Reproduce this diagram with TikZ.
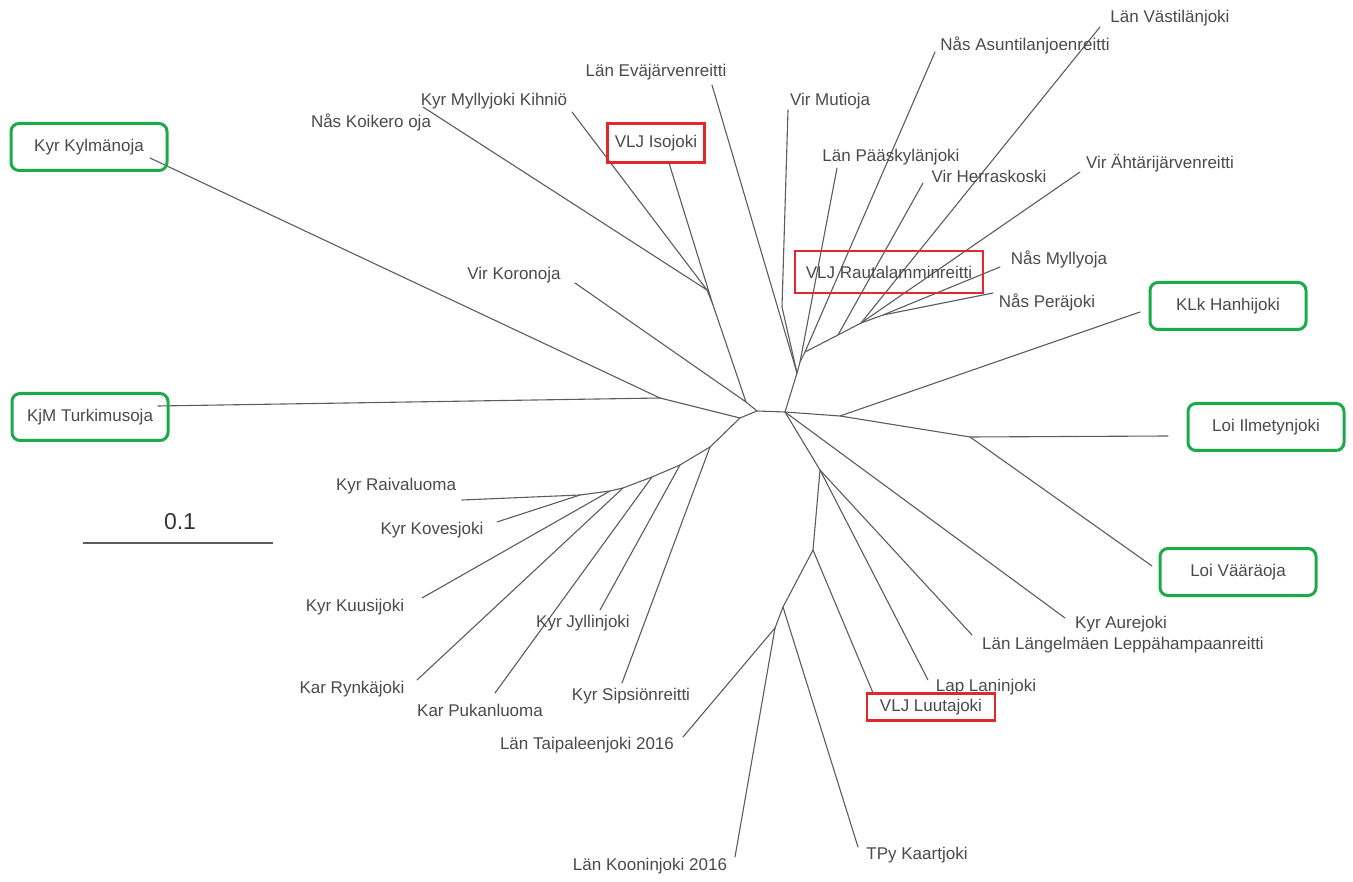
\documentclass[tikz,border=0pt]{standalone}
\usepackage{fontspec}
\setmainfont{Liberation Sans}
\definecolor{treegray}{HTML}{5C5C5C}
\definecolor{labelgray}{HTML}{4A4A4A}
\definecolor{boxred}{HTML}{E0282E}
\definecolor{boxgreen}{HTML}{1BAA48}
\tikzstyle{branch} = [treegray, line width=1.1pt, line cap=round]
\tikzstyle{taxon} = [text=labelgray, font=\fontsize{17}{19}\selectfont, inner sep=0pt]
\tikzstyle{redbox} = [taxon, draw=boxred, line width=2.4pt]
\tikzstyle{greenbox} = [taxon, draw=boxgreen, line width=3pt, rounded corners=8pt, minimum width=156pt, minimum height=47pt]

\begin{document}
\begin{tikzpicture}[x=1pt, y=-1pt]
	\useasboundingbox (0,0) rectangle (1353,882);
	% inner points of the tree
	\coordinate (K1) at (707,290);
	\coordinate (K2) at (713,305);
	\coordinate (A) at (746,402);
	\coordinate (T1) at (757,411);
	\coordinate (T2) at (785,412);
	\coordinate (L0) at (740,418);
	\coordinate (KT) at (660,398);
	\coordinate (L1) at (710,447);
	\coordinate (L2) at (680,465);
	\coordinate (L3) at (652,477);
	\coordinate (L4) at (623,488);
	\coordinate (L5) at (610,491);
	\coordinate (L6) at (580,495);
	\coordinate (B) at (797,373);
	\coordinate (R1) at (800,362);
	\coordinate (R2) at (805,352);
	\coordinate (R3) at (838,335);
	\coordinate (R4) at (861,323);
	\coordinate (R5) at (883,315);
	\coordinate (H1) at (840,416);
	\coordinate (H2) at (970,437);
	\coordinate (D1) at (820,470);
	\coordinate (D2) at (813,550);
	\coordinate (D3) at (783,607);
	\coordinate (D4) at (775,628);
	% tips
	\coordinate (tKoikero) at (423,107);
	\coordinate (tMyllyjoki) at (572,112);
	\coordinate (tIsojoki) at (669,163);
	\coordinate (tKoronoja) at (575,283);
	\coordinate (tKylmanoja) at (150,158);
	\coordinate (tTurkimus) at (158,406);
	\coordinate (tRaiva) at (462,500);
	\coordinate (tKoves) at (497,522);
	\coordinate (tKuusi) at (422,598);
	\coordinate (tRynka) at (417,680);
	\coordinate (tPukan) at (495,693);
	\coordinate (tJyllin) at (600,610);
	\coordinate (tSipsio) at (622,683);
	\coordinate (tTaipale) at (683,737);
	\coordinate (tKoonin) at (735,857);
	\coordinate (tKaart) at (858,847);
	\coordinate (tLuuta) at (873,693);
	\coordinate (tLanin) at (928,680);
	\coordinate (tLangel) at (972,635);
	\coordinate (tAure) at (1065,618);
	\coordinate (tVaara) at (1152,566);
	\coordinate (tIlmety) at (1168,436);
	\coordinate (tHanhi) at (1140,312);
	\coordinate (tPera) at (993,293);
	\coordinate (tMyllyoja) at (1000,267);
	\coordinate (tAhtari) at (1080,172);
	\coordinate (tVastila) at (1100,27);
	\coordinate (tHerras) at (923,183);
	\coordinate (tAsuntila) at (935,52);
	\coordinate (tPaasky) at (837,168);
	\coordinate (bMutioja) at (782,307);
	\coordinate (tMutioja) at (788,110);
	\coordinate (tEvaj) at (712,85);
	% branches
	\draw[branch] (tKoikero) -- (K1) -- (tMyllyjoki);
	\draw[branch] (K1) -- (K2) -- (tIsojoki);
	\draw[branch] (K2) -- (A) -- (tKoronoja);
	\draw[branch] (A) -- (T1) -- (T2);
	\draw[branch] (T1) -- (L0) -- (KT) -- (tKylmanoja);
	\draw[branch] (KT) -- (tTurkimus);
	\draw[branch] (L0) -- (L1) -- (L2) -- (L3) -- (L4) -- (L5) -- (L6) -- (tRaiva);
	\draw[branch] (L6) -- (tKoves);
	\draw[branch] (L5) -- (tKuusi);
	\draw[branch] (L4) -- (tRynka);
	\draw[branch] (L3) -- (tPukan);
	\draw[branch] (L2) -- (tJyllin);
	\draw[branch] (L1) -- (tSipsio);
	\draw[branch] (T2) -- (B) -- (tEvaj);
	\draw[branch] (B) -- (bMutioja) -- (tMutioja);
	\draw[branch] (B) -- (R1) -- (tPaasky);
	\draw[branch] (R1) -- (R2) -- (tAsuntila);
	\draw[branch] (R2) -- (R3) -- (tHerras);
	\draw[branch] (R3) -- (R4) -- (tVastila);
	\draw[branch] (R4) -- (tAhtari);
	\draw[branch] (R4) -- (R5) -- (tMyllyoja);
	\draw[branch] (R5) -- (tPera);
	\draw[branch] (T2) -- (H1) -- (tHanhi);
	\draw[branch] (H1) -- (H2) -- (tIlmety);
	\draw[branch] (H2) -- (tVaara);
	\draw[branch] (T2) -- (tAure);
	\draw[branch] (T2) -- (D1) -- (tLangel);
	\draw[branch] (D1) -- (tLanin);
	\draw[branch] (D1) -- (D2) -- (tLuuta);
	\draw[branch] (D2) -- (D3) -- (tKaart);
	\draw[branch] (D3) -- (D4) -- (tTaipale);
	\draw[branch] (D4) -- (tKoonin);
	% labels
	\node[taxon] (Vastila) at (1170,18) {Län Västilänjoki};
	\node[taxon] (Asuntila) at (1025,45) {Nås Asuntilanjoenreitti};
	\node[taxon] (Evaj) at (656,72) {Län Eväjärvenreitti};
	\node[taxon] (Mutioja) at (830,101) {Vir Mutioja};
	\node[taxon] (Myllyjoki) at (494,101) {Kyr Myllyjoki Kihniö};
	\node[taxon] (Koikero) at (371,122) {Nås Koikero oja};
	\node[redbox, minimum width=97pt, minimum height=39pt] (Isojoki) at (656,143) {VLJ Isojoki};
	\node[greenbox] (Kylmanoja) at (89,147) {Kyr Kylmänoja};
	\node[taxon] (Paasky) at (891,157) {Län Pääskylänjoki};
	\node[taxon] (Herras) at (989,176) {Vir Herraskoski};
	\node[taxon] (Ahtari) at (1160,163) {Vir Ähtärijärvenreitti};
	\node[taxon] (Koronoja) at (514,275) {Vir Koronoja};
	\node[redbox, minimum width=188pt, minimum height=42pt] (Rautalampi) at (889,272) {VLJ Rautalamminreitti};
	\node[taxon] (Myllyoja) at (1059,259) {Nås Myllyoja};
	\node[taxon] (Pera) at (1047,302) {Nås Peräjoki};
	\node[greenbox] (Hanhi) at (1228,306) {KLk Hanhijoki};
	\node[greenbox] (Turkimus) at (90,417) {KjM Turkimusoja};
	\node[greenbox] (Ilmety) at (1266,427) {Loi Ilmetynjoki};
	\node[taxon] (Raiva) at (396,486) {Kyr Raivaluoma};
	\node[taxon] (Koves) at (432,530) {Kyr Kovesjoki};
	\node[greenbox] (Vaara) at (1238,572) {Loi Vääräoja};
	\node[taxon] (Kuusi) at (355,607) {Kyr Kuusijoki};
	\node[taxon] (Jyllin) at (583,623) {Kyr Jyllinjoki};
	\node[taxon] (Aure) at (1121,624) {Kyr Aurejoki};
	\node[taxon] (Langel) at (1123,645) {Län Längelmäen Leppähampaanreitti};
	\node[taxon] (Rynka) at (352,689) {Kar Rynkäjoki};
	\node[taxon] (Lanin) at (986,687) {Lap Laninjoki};
	\node[taxon] (Sipsio) at (631,696) {Kyr Sipsiönreitti};
	\node[redbox, minimum width=128pt, minimum height=27pt] (Luuta) at (931,707) {VLJ Luutajoki};
	\node[taxon] (Pukan) at (480,710) {Kar Pukanluoma};
	\node[taxon] (Taipale) at (587,745) {Län Taipaleenjoki 2016};
	\node[taxon] (Kaart) at (917,855) {TPy Kaartjoki};
	\node[taxon] (Koonin) at (650,866) {Län Kooninjoki 2016};
	% scale bar
	\coordinate (s0) at (83,543);
	\coordinate (s1) at (273,543);
	\draw[treegray, line width=2pt] (s0) -- (s1);
	\node[text=black!80, font=\fontsize{23}{25}\selectfont, inner sep=0pt] (scaleLabel) at (180,522) {0.1};
\end{tikzpicture}
\end{document}
